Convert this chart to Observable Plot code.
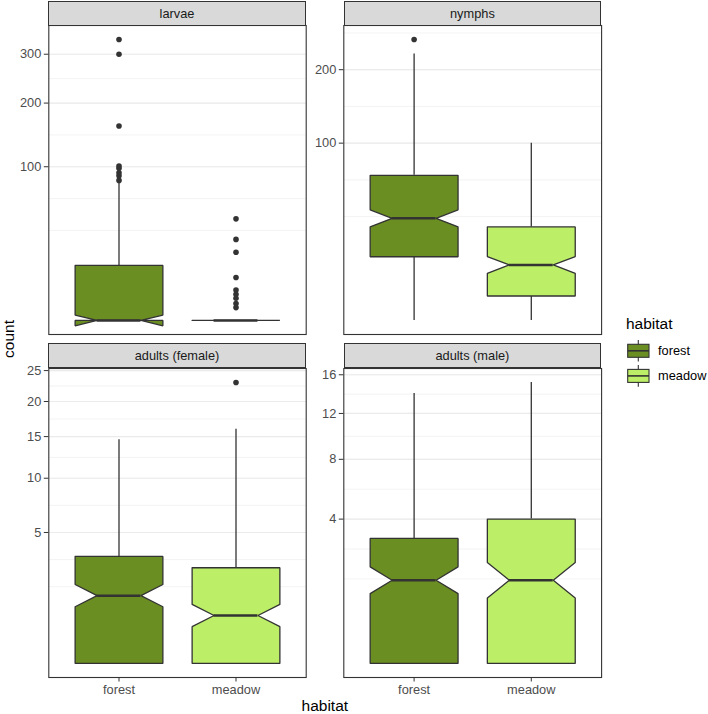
<!DOCTYPE html>
<html><head><meta charset="utf-8">
<script src="https://cdn.jsdelivr.net/npm/d3@7"></script>
<script src="https://cdn.jsdelivr.net/npm/@observablehq/plot@0.6"></script>
<style>
body{margin:0;background:#fff;}
#chart{position:relative;width:708px;height:714px;font-family:"Liberation Sans",Arial,sans-serif;overflow:hidden;background:#fff;}
.strip{position:absolute;box-sizing:border-box;background:#D9D9D9;border:1px solid #333;color:#1A1A1A;font-size:12.8px;display:flex;align-items:center;justify-content:center;}
.panel{position:absolute;}
.panel svg{overflow:visible;}
.panel svg text{font-size:12.8px;}
.title{position:absolute;font-size:15.5px;color:#000;white-space:nowrap;}
</style></head><body><div id="chart"></div>
<script>
// ---------------- data ----------------
const stages = ["larvae", "nymphs", "adults (female)", "adults (male)"];
const habitats = ["forest", "meadow"];
const fills = ["#6B8E23", "#BCEE68"];
// per stage: [forest, meadow] (counts)
const lowerWhisker = [[0, 0], [0, 0], [0, 0], [0, 0]];
const lowerHinge   = [[0, 0], [12.9, 1.9], [0, 0], [0, 0]];
const medians      = [[0, 0], [33.2, 9.8], [1.34, 0.67], [1.33, 1.33]];
const upperHinge   = [[12.8, 0], [67, 27.8], [3.34, 2.67], [3.0, 4.0]];
const upperWhisker = [[80, 0], [226, 100], [14.6, 16], [14.0, 15.15]];
// notch half-height, in sqrt(count) units
const notchHalf    = [[0.35, 0], [0.48, 0.47], [0.19, 0.19], [0.185, 0.245]];
const outliers = [
  [[83, 88.6, 92.3, 98, 101, 160, 300, 334], [0.7, 1.2, 2.1, 2.9, 3.9, 7.8, 19.7, 27.8, 43.7]],
  [[251], []],
  [[], [23]],
  [[], []]
];
const yBreaks = [[100, 200, 300], [100, 200], [5, 10, 15, 20, 25], [4, 8, 12, 16]];

// ---------------- layout ----------------
const chart = document.getElementById("chart");
const colLeft = [48.3, 343.5], colWidth = [257.4, 257.8];
const rowTop = [25, 367.7], stripTop = [1, 343.3], panelH = 309;
const FONT = '"Liberation Sans", Arial, sans-serif';
const LW = 1.3;

function minorBreaks(b, dom) {
  const bb = b.slice(); const bd = bb[1] - bb[0];
  if (dom[0] < bb[0]) bb.unshift(bb[0] - bd);
  if (dom[1] > bb[bb.length - 1]) bb.push(bb[bb.length - 1] + bd);
  const out = [];
  for (let k = 0; k < bb.length - 1; k++) out.push(bb[k], (bb[k] + bb[k + 1]) / 2);
  out.push(bb[bb.length - 1]);
  return out.filter(v => v >= dom[0] && v <= dom[1]);
}

stages.forEach((stage, i) => {
  const col = i % 2, row = Math.floor(i / 2);
  const sq = Math.sqrt;
  const v = [];
  habitats.forEach((h, j) => { v.push(sq(lowerWhisker[i][j]), sq(upperWhisker[i][j]), ...outliers[i][j].map(sq)); });
  const mn = d3.min(v), mx = d3.max(v), r = mx - mn;
  const dom = [mn - 0.05 * r, mx + 0.05 * r];
  const major = yBreaks[i].map(sq);
  const minor = minorBreaks(major, dom);

  const polys = [], whisk = [], meds = [], pts = [];
  habitats.forEach((h, j) => {
    const c = j + 1, w = 0.375, ind = 0.1875;
    const lo = sq(lowerHinge[i][j]), md = sq(medians[i][j]), hi = sq(upperHinge[i][j]);
    const nl = md - notchHalf[i][j], nu = md + notchHalf[i][j];
    const xs = [c - w, c - w, c - w + ind, c - w, c - w, c + w, c + w, c + w - ind, c + w, c + w, c - w];
    const ys = [hi, nu, md, nl, lo, lo, nl, md, nu, hi, hi];
    xs.forEach((x, k) => polys.push({x, y: ys[k], hab: h}));
    whisk.push({x: c, y1: hi, y2: sq(upperWhisker[i][j])});
    whisk.push({x: c, y1: lo, y2: sq(lowerWhisker[i][j])});
    meds.push({y: md, x1: c - w + ind, x2: c + w - ind});
    outliers[i][j].forEach(o => pts.push({x: c, y: sq(o)}));
  });

  const bottom = row === 1;
  const mL = 48.3, mT = 1, mB = bottom ? 37 : 1;
  const mR = 308 - mL - colWidth[col];
  const marks = [
    Plot.ruleY(minor, {stroke: "#EBEBEB", strokeWidth: 0.6}),
    Plot.ruleY(major, {stroke: "#EBEBEB", strokeWidth: 1.2}),
    Plot.ruleX(whisk, {x: "x", y1: "y1", y2: "y2", stroke: "#333333", strokeWidth: LW}),
    Plot.line(polys, {x: "x", y: "y", z: "hab", fill: "hab", stroke: "#333333", strokeWidth: LW, strokeLinejoin: "miter"}),
    Plot.ruleY(meds, {y: "y", x1: "x1", x2: "x2", stroke: "#333333", strokeWidth: 2.5}),
    Plot.dot(pts, {x: "x", y: "y", r: 2.8, fill: "#333333", stroke: null}),
    Plot.axisY(major, {tickSize: 4.5, tickPadding: 3, fontSize: 12.8, stroke: "#333333", fill: "#4D4D4D", label: null,
      tickFormat: d => String(Math.round(d * d))}),
    Plot.frame({stroke: "#333333", strokeWidth: 1.1})
  ];
  if (bottom) marks.push(Plot.axisX([1, 2], {tickSize: 4.5, tickPadding: 3, fontSize: 12.8, stroke: "#333333", fill: "#4D4D4D",
      label: null, tickFormat: d => habitats[d - 1]}));

  const svg = Plot.plot({
    width: 308, height: panelH + mT + mB,
    marginLeft: mL, marginRight: mR, marginTop: mT, marginBottom: mB,
    x: {domain: [0.4, 2.6], axis: null},
    y: {domain: dom, axis: null},
    color: {domain: habitats, range: fills},
    style: {fontFamily: FONT, fontSize: "12.8px", background: "transparent", overflow: "visible"},
    marks
  });
  const div = document.createElement("div");
  div.className = "panel";
  div.style.left = (colLeft[col] - mL) + "px";
  div.style.top = (rowTop[row] - mT) + "px";
  div.appendChild(svg);
  chart.appendChild(div);

  const strip = document.createElement("div");
  strip.className = "strip";
  strip.style.left = colLeft[col] + "px";
  strip.style.top = stripTop[row] + "px";
  strip.style.width = colWidth[col] + "px";
  strip.style.height = (rowTop[row] - stripTop[row] + 0.5) + "px";
  strip.textContent = stage;
  chart.appendChild(strip);
});

// axis titles
const yt = document.createElement("div");
yt.className = "title"; yt.textContent = "count";
yt.style.left = "9px"; yt.style.top = "339px";
yt.style.transform = "translate(-50%,-50%) rotate(-90deg)";
chart.appendChild(yt);
const xt = document.createElement("div");
xt.className = "title"; xt.textContent = "habitat";
xt.style.left = "324.8px"; xt.style.top = "706px";
xt.style.transform = "translate(-50%,-50%)";
chart.appendChild(xt);

// legend
const lg = d3.select(chart).append("svg")
  .attr("width", 108).attr("height", 100)
  .style("position", "absolute").style("left", "600px").style("top", "300px")
  .style("font-family", FONT);
lg.append("text").attr("x", 26).attr("y", 28.5).attr("font-size", 15.5).attr("fill", "#000").text("habitat");
habitats.forEach((h, j) => {
  const cy = 50.8 + j * 25.1;
  const g = lg.append("g");
  g.append("line").attr("x1", 38.3).attr("x2", 38.3).attr("y1", cy - 10.8).attr("y2", cy + 10.8)
    .attr("stroke", "#333").attr("stroke-width", 1.1);
  g.append("rect").attr("x", 27.7).attr("y", cy - 6.5).attr("width", 21.3).attr("height", 13)
    .attr("fill", fills[j]).attr("stroke", "#333").attr("stroke-width", 1.1);
  g.append("line").attr("x1", 27.7).attr("x2", 49).attr("y1", cy).attr("y2", cy)
    .attr("stroke", "#333").attr("stroke-width", 1.6);
  lg.append("text").attr("x", 58).attr("y", cy + 4.5).attr("font-size", 12.8).attr("fill", "#000").text(h);
});
</script></body></html>
